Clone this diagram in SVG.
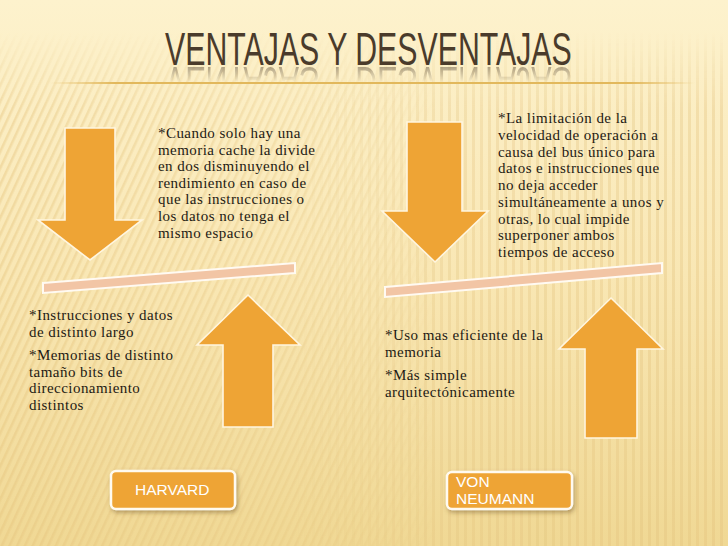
<svg xmlns="http://www.w3.org/2000/svg" xmlns:xlink="http://www.w3.org/1999/xlink" width="728" height="546" viewBox="0 0 728 546">
<style>
  .body { font-family: "Liberation Serif", "Times New Roman", serif; font-size: 15px; letter-spacing: 0.45px; fill: #1e1a14; }
  .btn-text { font-family: "Liberation Sans", Arial, sans-serif; font-size: 15.5px; fill: #ffffff; }
  .arrow { fill: #eea435; stroke: #fff6e0; stroke-width: 1.6; stroke-linejoin: miter; }
  .bar { fill: #f2c5a5; stroke: #fffaf2; stroke-width: 2; }
  .btn { fill: #eea435; stroke: #fffaf0; stroke-width: 2.5; }
  .title { font-family: "Liberation Sans", Arial, sans-serif; font-size: 30.3px; fill: #4a3b2b; }
</style>
<defs>
  <linearGradient id="bg" x1="0" y1="0" x2="0" y2="1">
    <stop offset="0" stop-color="#fdf2cd"/>
    <stop offset="0.5" stop-color="#f9e7b4"/>
    <stop offset="1" stop-color="#f0d894"/>
  </linearGradient>
  <pattern id="diag" width="7" height="7" patternUnits="userSpaceOnUse" patternTransform="rotate(25)">
    <rect x="0" y="0" width="2.5" height="7" fill="#e5c47e"/>
  </pattern>
  <pattern id="vert" width="8" height="8" patternUnits="userSpaceOnUse">
    <rect x="0" y="0" width="3" height="8" fill="#e2c17c"/>
  </pattern>
  <linearGradient id="fadeL" x1="0" y1="0" x2="1" y2="0">
    <stop offset="0" stop-color="#fff" stop-opacity="0.6"/>
    <stop offset="0.45" stop-color="#fff" stop-opacity="0.4"/>
    <stop offset="0.6" stop-color="#fff" stop-opacity="0"/>
  </linearGradient>
  <linearGradient id="fadeR" x1="0" y1="0" x2="1" y2="0">
    <stop offset="0.4" stop-color="#fff" stop-opacity="0"/>
    <stop offset="0.6" stop-color="#fff" stop-opacity="0.4"/>
    <stop offset="1" stop-color="#fff" stop-opacity="0.5"/>
  </linearGradient>
  <linearGradient id="fadeTop" x1="0" y1="0" x2="0" y2="1">
    <stop offset="0" stop-color="#fff" stop-opacity="0"/>
    <stop offset="0.06" stop-color="#fff" stop-opacity="0"/>
    <stop offset="0.2" stop-color="#fff" stop-opacity="1"/>
    <stop offset="1" stop-color="#fff" stop-opacity="1"/>
  </linearGradient>
  <mask id="mL"><rect width="728" height="546" fill="url(#fadeL)"/></mask>
  <mask id="mR"><rect width="728" height="546" fill="url(#fadeR)"/></mask>
  <mask id="mT"><rect width="728" height="546" fill="url(#fadeTop)"/></mask>
  <linearGradient id="rule" x1="0" y1="0" x2="1" y2="0">
    <stop offset="0" stop-color="#e2b85c" stop-opacity="0"/>
    <stop offset="0.1" stop-color="#e2b85c" stop-opacity="1"/>
    <stop offset="0.9" stop-color="#e2b85c" stop-opacity="1"/>
    <stop offset="1" stop-color="#e2b85c" stop-opacity="0"/>
  </linearGradient>
  <linearGradient id="reflFade" x1="0" y1="0" x2="0" y2="1">
    <stop offset="0" stop-color="#fff" stop-opacity="0.45"/>
    <stop offset="1" stop-color="#fff" stop-opacity="0"/>
  </linearGradient>
  <mask id="mRefl" maskUnits="userSpaceOnUse" x="0" y="0" width="728" height="546"><rect x="0" y="66" width="728" height="16" fill="url(#reflFade)"/></mask>
  <filter id="shadow" x="-20%" y="-30%" width="140%" height="170%">
    <feDropShadow dx="1.5" dy="2.5" stdDeviation="2" flood-color="#6b5020" flood-opacity="0.45"/>
  </filter>
</defs>

<g id="background">
  <rect width="728" height="546" fill="url(#bg)"/>
  <g mask="url(#mT)">
    <rect width="728" height="546" fill="url(#diag)" mask="url(#mL)" opacity="0.7"/>
    <rect width="728" height="546" fill="url(#vert)" mask="url(#mR)" opacity="0.7"/>
  </g>
</g>

<g id="title">
  <text id="titleText" class="title" x="0" y="0" transform="translate(165,65) scale(1,1.5)">VENTAJAS Y DESVENTAJAS</text>
  <g mask="url(#mRefl)">
    <use xlink:href="#titleText" href="#titleText" transform="translate(0,132) scale(1,-1)"/>
  </g>
  <rect x="50" y="82" width="645" height="2" fill="url(#rule)"/>
</g>

<g id="harvard-disadvantage">
  <polygon class="arrow" points="65,128 115,128 115,220 142,220 90,260 38,220 65,220"/>
  <text class="body">
    <tspan x="158" y="138">*Cuando solo hay una</tspan>
    <tspan x="158" y="154.6">memoria cache la divide</tspan>
    <tspan x="158" y="171.2">en dos disminuyendo el</tspan>
    <tspan x="158" y="187.8">rendimiento en caso de</tspan>
    <tspan x="158" y="204.4">que las instrucciones o</tspan>
    <tspan x="158" y="221">los datos no tenga el</tspan>
    <tspan x="158" y="237.6">mismo espacio</tspan>
  </text>
</g>

<g id="harvard-balance">
  <polygon class="bar" points="43,283 295,263 295,273 43,293"/>
</g>

<g id="harvard-advantage">
  <polygon class="arrow" points="248,295 300,345 273,345 273,427 223,427 223,345 197,345"/>
  <text class="body">
    <tspan x="29" y="320">*Instrucciones y datos</tspan>
    <tspan x="29" y="336.5">de distinto largo</tspan>
    <tspan x="29" y="360">*Memorias de distinto</tspan>
    <tspan x="29" y="376.7">tamaño bits de</tspan>
    <tspan x="29" y="393.3">direccionamiento</tspan>
    <tspan x="29" y="410">distintos</tspan>
  </text>
</g>

<g id="vonneumann-disadvantage">
  <polygon class="arrow" points="407,122 462,122 462,211 488,211 435,262 382,211 407,211"/>
  <text class="body">
    <tspan x="498" y="123">*La limitación de la</tspan>
    <tspan x="498" y="139.8">velocidad de operación a</tspan>
    <tspan x="498" y="156.5">causa del bus único para</tspan>
    <tspan x="498" y="173.3">datos e instrucciones que</tspan>
    <tspan x="498" y="190">no deja acceder</tspan>
    <tspan x="498" y="206.8">simultáneamente a unos y</tspan>
    <tspan x="498" y="223.5">otras, lo cual impide</tspan>
    <tspan x="498" y="240.3">superponer ambos</tspan>
    <tspan x="498" y="257">tiempos de acceso</tspan>
  </text>
</g>

<g id="vonneumann-balance">
  <polygon class="bar" points="385,287 662,263 662,273 385,297"/>
</g>

<g id="vonneumann-advantage">
  <polygon class="arrow" points="611,298 663,349 637,349 637,438 585,438 585,349 559,349"/>
  <text class="body">
    <tspan x="385" y="340">*Uso mas eficiente de la</tspan>
    <tspan x="385" y="356.7">memoria</tspan>
    <tspan x="385" y="380">*Más simple</tspan>
    <tspan x="385" y="396.7">arquitectónicamente</tspan>
  </text>
</g>

<g id="harvard-label">
  <rect class="btn" x="111" y="471" width="124" height="38" rx="5" filter="url(#shadow)"/>
  <text class="btn-text" x="135" y="495">HARVARD</text>
</g>

<g id="vonneumann-label">
  <rect class="btn" x="447" y="472" width="125" height="37" rx="5" filter="url(#shadow)"/>
  <text class="btn-text">
    <tspan x="456" y="486.5">VON</tspan>
    <tspan x="456" y="503.5">NEUMANN</tspan>
  </text>
</g>

<g id="connectors"/>
</svg>
